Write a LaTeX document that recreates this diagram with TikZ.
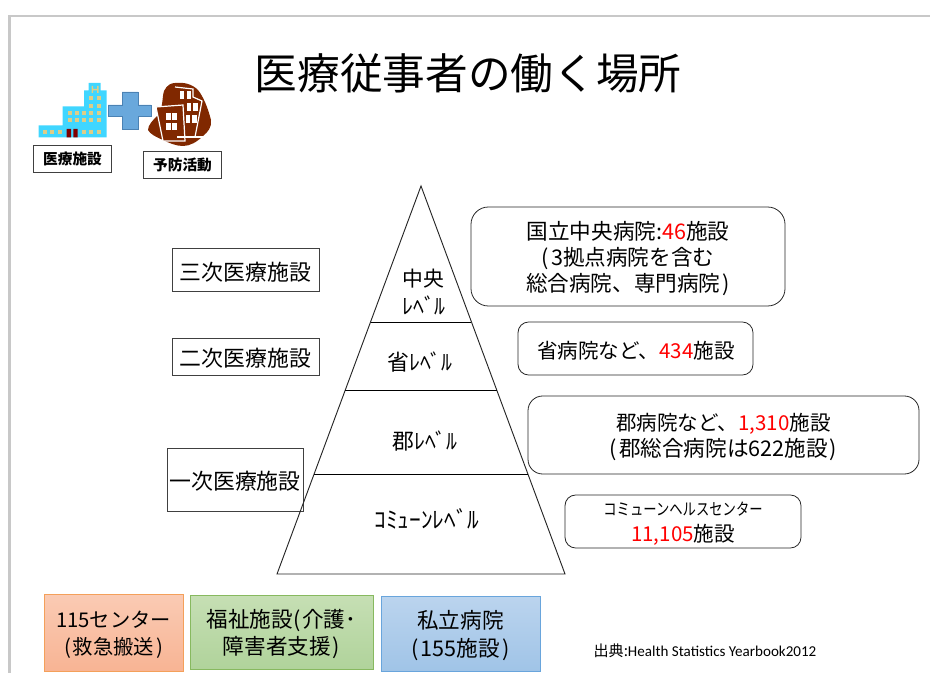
\documentclass[tikz,border=0pt]{standalone}
\usepackage{fontspec}
\setmainfont{Noto Sans CJK JP}
\newfontfamily\srcfont{Carlito}
\definecolor{redtxt}{RGB}{255,0,0}
\definecolor{framegray}{RGB}{200,200,200}
\definecolor{bldcyan}{RGB}{64,214,255}
\definecolor{bldtan}{RGB}{222,205,135}
\definecolor{bldbrown}{RGB}{128,40,0}
\definecolor{orangetop}{RGB}{250,203,180}
\definecolor{orangebot}{RGB}{248,180,148}
\definecolor{greentop}{RGB}{198,223,180}
\definecolor{greenbot}{RGB}{176,211,155}
\definecolor{bluetop}{RGB}{187,212,238}
\definecolor{bluebot}{RGB}{160,196,231}
\tikzset{
  levelbox/.style={draw=black!75,line width=0.6pt,inner sep=0pt},
  leveltext/.style={inner sep=0pt,font=\fontsize{16.4}{20}\selectfont},
  infobox/.style={draw=black!85,line width=0.6pt,rounded corners=#1,inner sep=0pt,align=center},
  iconbox/.style={draw=black!75,line width=0.6pt,inner sep=0pt,font=\fontsize{11}{13}\selectfont\bfseries},
  levellabel/.style={inner sep=0pt,align=center,font=\fontsize{16.4}{20}\selectfont},
  colorbox/.style={line width=0.6pt,inner sep=0pt,align=center,font=\fontsize{16.2}{20.5}\selectfont},
}
\newcommand{\lp}{(\hspace{1.5pt}}
\newcommand{\rp}{\hspace{1.5pt})}
\begin{document}
\begin{tikzpicture}[x=0.75pt,y=0.75pt,yscale=-1,xscale=1]
  \useasboundingbox (0,0) rectangle (930,673);
  %Frame
  \draw [framegray,line width=2pt] (9.5,673) -- (9.5,16) -- (930,16) ;

  %Title
  \node (title) at (468,73) [inner sep=0pt,font=\fontsize{32}{38}\selectfont] {医療従事者の働く場所};

  %Shape: Hospital
  \fill [bldcyan] (38.5,137.5) -- (38.5,125.5) -- (62.5,125.5) -- (62.5,106.5) -- (84,106.5) -- (84,90.5) -- (88.5,90.5) -- (88.5,83) -- (100.5,83) -- (100.5,90.5) -- (106.5,90.5) -- (106.5,137.5) -- cycle ;
  \foreach \wx/\wy in {45/132,52/132,60/132,84/132,91/132,99/132,70/120,77/120,84/120,91/120,99/120,70/113,77/113,84/113,91/113,99/113,91/106,99/106,91/98,99/98} {
    \fill [bldtan] (\wx-2,\wy-2) rectangle +(4,4) ;
  }
  \fill [bldtan] (91.5,86) -- (93,86) -- (93,89) -- (97,89) -- (97,86) -- (98.5,86) -- (98.5,93) -- (97,93) -- (97,90.5) -- (93,90.5) -- (93,93) -- (91.5,93) -- cycle ;
  \fill [red!50!black] (66.7,129) rectangle (71,137.5) (73.3,129) rectangle (77.7,137.5) ;
  %Shape: Plus
  \draw [fill={rgb, 255:red, 105; green, 168; blue, 220},draw={rgb, 255:red, 75; green, 130; blue, 180},line width=0.7pt] (122,92) -- (138,92) -- (138,105) -- (151,105) -- (151,116) -- (138,116) -- (138,129) -- (122,129) -- (122,116) -- (108,116) -- (108,105) -- (122,105) -- cycle ;
  %Shape: Brown building
  \fill [bldbrown] (164,91) .. controls (167,85) and (171,83) .. (175,83) .. controls (184,82) and (192,84) .. (198,90) .. controls (203,96) and (208,108) .. (211,120) .. controls (212,127) and (208,132) .. (203,136) .. controls (197,142) and (190,146) .. (183,146) .. controls (176,146) and (169,143) .. (163,140) .. controls (156,137) and (150,134) .. (148,130) .. controls (148,125) and (153,120) .. (158,115) .. controls (163,110) and (162,97) .. (164,91) -- cycle ;
  \draw [white,line width=0.9pt] (175,87) -- (193,89) -- (193,97) -- (202,101) -- (195,137) -- (177,137) ;
  \draw [fill=bldbrown,draw=white,line width=0.9pt] (156,107) -- (183,105) -- (185,141) -- (163,141) -- cycle ;
  \draw [white,line width=0.9pt] (177,137) -- (211,137) ;
  \foreach \wx/\wy/\wdt in {166/113/4.7,172/113/4.7,166/123/4.7,172/123/4.7} {
    \fill [white] (\wx,\wy) rectangle +(\wdt,7.5) ;
  }
  \foreach \wx/\wy/\wdt in {180/91.3/4.4,186.7/91.3/4.4,186.7/103/4.2,192.7/103/5.4,186/115.3/4.2,191.7/115.3/5.4} {
    \fill [white] (\wx,\wy) rectangle +(\wdt,8.2) ;
  }
  %Icon labels
  \node (hospbox) at (72.5,159) [iconbox,minimum width=78pt*0.75,minimum height=27pt*0.75] {医療施設};
  \node (prevbox) at (182.5,164.5) [iconbox,minimum width=78pt*0.75,minimum height=27pt*0.75] {予防活動};

  %Pyramid
  \coordinate (apex) at (421,186);
  \coordinate (baseL) at (277,574);
  \coordinate (baseR) at (565,574);
  \coordinate (lineAl) at (371,322);
  \coordinate (lineAr) at (471,322);
  \coordinate (lineBl) at (345,390);
  \coordinate (lineBr) at (497,390);
  \coordinate (lineCl) at (314,474);
  \coordinate (lineCr) at (528,474);

  %Level boxes
  \draw [levelbox] (172,248) rectangle (319,291) ;
  \node (tertiary) at (245.5,272) [leveltext] {三次医療施設};
  \draw [levelbox] (172,338) rectangle (319,375) ;
  \node (secondary) at (245.5,358) [leveltext] {二次医療施設};
  \draw [levelbox] (167,448) rectangle (303,511) ;
  \node (primary) at (235,481) [leveltext] {一次医療施設};

  \draw [line width=0.7pt,black!85] (apex) -- (baseR) -- (baseL) -- cycle ;
  \draw [line width=0.7pt,black] (lineAl) -- (lineAr) ;
  \draw [line width=0.7pt,black] (lineBl) -- (lineBr) ;
  \draw [line width=0.7pt,black] (lineCl) -- (lineCr) ;

  %Pyramid labels
  \node (central) at (423,279) [levellabel,font=\fontsize{15.6}{18}\selectfont] {中央};
  \node (centrallv) at (424,305) [levellabel] {ﾚﾍﾞﾙ};
  \node (province) at (420,362) [levellabel] {省ﾚﾍﾞﾙ};
  \node (district) at (425,441) [levellabel] {郡ﾚﾍﾞﾙ};
  \node (commune) at (427,519) [levellabel,font=\fontsize{17.5}{20}\selectfont] {ｺﾐｭｰﾝﾚﾍﾞﾙ};

  %Info boxes
  \draw [infobox=13pt] (471,207) rectangle (785,306) ;
  \node (centralinfo) at (628,258.5) [inner sep=0pt,align=center,font=\fontsize{16.2}{19.8}\selectfont] {国立中央病院:\textcolor{redtxt}{46}施設\\\lp 3拠点病院を含む\\総合病院、専門病院\rp};
  \draw [infobox=8pt] (518,322) rectangle (753,375) ;
  \node (provinfo) at (636,350.5) [inner sep=0pt,font=\fontsize{15.4}{19.8}\selectfont] {省病院など、\textcolor{redtxt}{434}施設};
  \draw [infobox=11pt] (528,396) rectangle (919,474) ;
  \node (distinfo) at (723.5,437) [inner sep=0pt,align=center,font=\fontsize{16.2}{19.8}\selectfont] {{\fontsize{15.4}{19.8}\selectfont 郡病院など、\textcolor{redtxt}{1,310}施設}\\\lp 郡総合病院は622施設\rp};
  \draw [infobox=8pt] (565,495) rectangle (801,548) ;
  \node (comminfo) at (683,509) [inner sep=0pt,font=\fontsize{10}{12}\selectfont] {\scalebox{1}[1.25]{コミューンヘルスセンター}};
  \node (comminfob) at (683,535) [inner sep=0pt,font=\fontsize{15.4}{19.8}\selectfont] {\textcolor{redtxt}{11,105}施設};

  %Bottom boxes
  \draw [colorbox,draw={rgb, 255:red, 244; green, 160; blue, 90},top color=orangetop,bottom color=orangebot] (44,594) rectangle (183,671) ;
  \node (emergency) at (113.5,634.5) [colorbox,font=\fontsize{15.2}{20.5}\selectfont] {115センター\\\lp 救急搬送\rp};
  \draw [colorbox,draw={rgb, 255:red, 135; green, 185; blue, 95},top color=greentop,bottom color=greenbot] (190,595) rectangle (373,669) ;
  \node (welfare) at (281.5,634) [colorbox] {福祉施設\lp 介護･\\障害者支援\rp};
  \draw [colorbox,draw={rgb, 255:red, 105; green, 165; blue, 220},top color=bluetop,bottom color=bluebot] (381,596) rectangle (540,671) ;
  \node (private) at (460.5,635.5) [colorbox] {私立病院\\\lp 155施設\rp};

  %Source
  \node (source) at (705,651) [inner sep=0pt,font=\fontsize{11.3}{13}\selectfont] {出典:{\srcfont Health Statistics Yearbook2012}};
\end{tikzpicture}
\end{document}
